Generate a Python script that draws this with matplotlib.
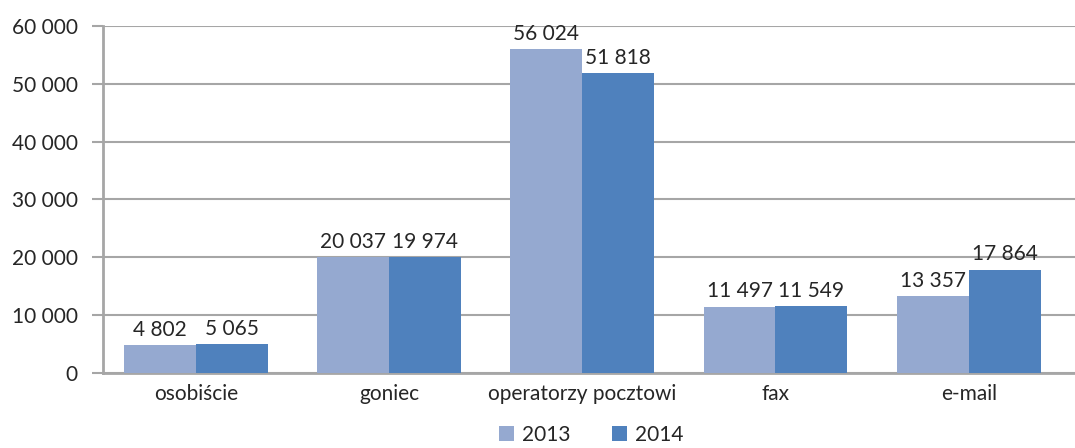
import numpy as np
import matplotlib
matplotlib.use('Agg')
import matplotlib.pyplot as plt

plt.rcParams['font.family'] = ['Lato', 'DejaVu Sans']

kategorie = ['osobiście', 'goniec', 'operatorzy pocztowi', 'fax', 'e-mail']
lata = ['2013', '2014']
wartosci_2013 = [4802, 20037, 56024, 11497, 13357]
wartosci_2014 = [5065, 19974, 51818, 11549, 17864]
y_ticks = [0, 10000, 20000, 30000, 40000, 50000, 60000]

kolory = ['#95A9D0', '#4F81BD']
szary = '#A6A6A6'
tekst = '#262626'
fs = 15


def fmt(v):
    return f'{v:,}'.replace(',', ' ')


fig = plt.figure(figsize=(10.75, 4.48), dpi=100)
ax = fig.add_axes([0.0958, 0.1674, 0.9042, 0.7746])

x = np.arange(len(kategorie))
w = 0.372
serie = [wartosci_2013, wartosci_2014]
for i, (rok, vals) in enumerate(zip(lata, serie)):
    pos = x + (i - 0.5) * w
    bars = ax.bar(pos, vals, width=w, color=kolory[i], label=rok, zorder=3)
    for b, v in zip(bars, vals):
        ax.text(b.get_x() + b.get_width() / 2, v + 900, fmt(v),
                ha='center', va='bottom', fontsize=fs, color=tekst, zorder=4)

ax.set_xlim(-0.48, 4.55)
ax.set_ylim(0, 60000)
ax.set_yticks(y_ticks)
ax.set_yticklabels([fmt(t) for t in y_ticks])
ax.set_xticks(x)
ax.set_xticklabels(kategorie)

ax.grid(axis='y', color=szary, linewidth=1.5, zorder=0)
ax.set_axisbelow(True)
for s in ['top', 'right']:
    ax.spines[s].set_visible(False)
ax.spines['left'].set_color(szary)
ax.spines['left'].set_linewidth(2)
ax.spines['bottom'].set_color(szary)
ax.spines['bottom'].set_linewidth(2)
ax.tick_params(axis='y', length=8, width=1.5, color=szary, labelsize=fs,
               labelcolor=tekst, pad=10)
ax.tick_params(axis='x', length=0, labelsize=fs, labelcolor=tekst, pad=8)

fig.legend(loc='lower center', bbox_to_anchor=(0.55, -0.035), ncol=2,
           frameon=False, fontsize=fs, handlelength=0.7, handleheight=0.7,
           handletextpad=0.4, columnspacing=2.0, labelcolor=tekst)

fig.savefig('out.png', dpi=100)
